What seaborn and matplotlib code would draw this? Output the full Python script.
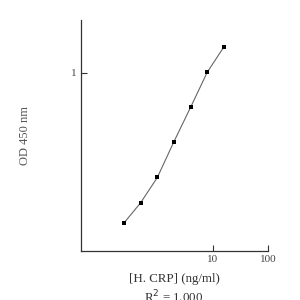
import numpy as np
import pandas as pd
import matplotlib
matplotlib.use("Agg")
import matplotlib.pyplot as plt
import seaborn as sns

# standard curve values
conc = [0.25, 0.5, 1, 2, 4, 8, 16]
od = [0.144, 0.187, 0.259, 0.412, 0.642, 1.01, 1.40]
x_ticks = [10, 100]
y_ticks = [1]

df = pd.DataFrame({"conc": conc, "od": od})

sns.set_style("ticks")
plt.rcParams['font.family'] = ['Liberation Serif', 'DejaVu Serif']

fig = plt.figure(figsize=(3, 3), dpi=100)
ax = fig.add_axes([0.27, 0.163, 0.623, 0.77])

# curve then square markers
sns.lineplot(data=df, x="conc", y="od", ax=ax, color="#666666", linewidth=0.8)
sns.scatterplot(data=df, x="conc", y="od", ax=ax, color="black", marker="s",
                s=10, edgecolor="black", linewidth=0, zorder=3)

ax.set_xscale("log")
ax.set_yscale("log")
ax.set_xlim(0.0416, 100)
ax.set_ylim(0.1, 1.98)
ax.set_xticks(x_ticks)
ax.set_xticklabels([str(t) for t in x_ticks])
ax.set_yticks(y_ticks)
ax.set_yticklabels([str(t) for t in y_ticks])
ax.minorticks_off()
ax.tick_params(direction="in", length=4, width=0.8, colors="#333333",
               labelsize=8, labelcolor="#444444", pad=3)

sns.despine(ax=ax)
for s in ["left", "bottom"]:
    ax.spines[s].set_color("#333333")
    ax.spines[s].set_linewidth(0.9)

ax.set_xlabel("[H. CRP] (ng/ml)", fontsize=9.3, color="#333333", labelpad=6)
ax.set_ylabel("OD 450 nm", fontsize=9, color="#555555", labelpad=29)
fig.text(0.578, -0.018, "R$^2$ = 1.000", fontsize=9.3, color="#333333",
         ha="center", va="bottom")

fig.savefig("out.png", dpi=100)
